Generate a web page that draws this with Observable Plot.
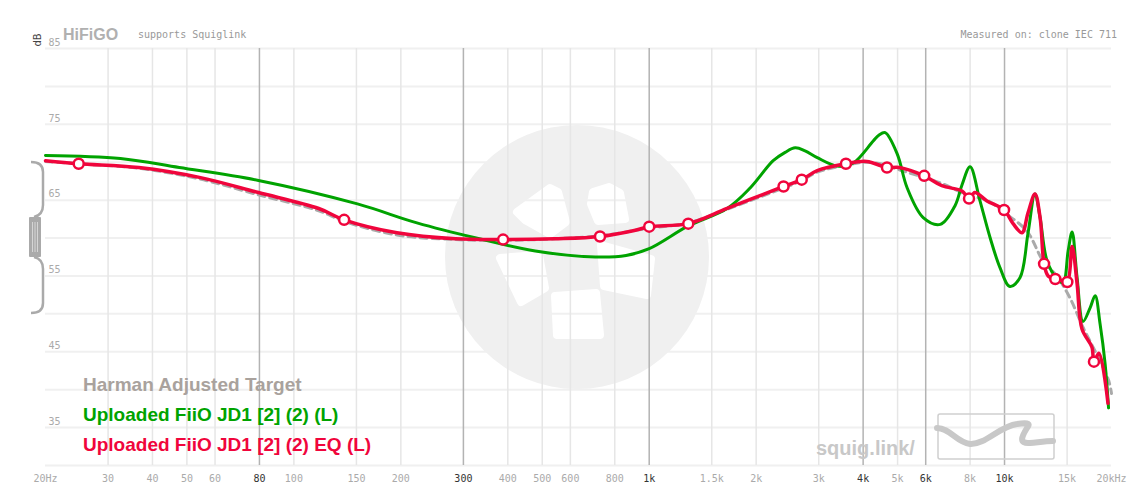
<!DOCTYPE html>
<html>
<head>
<meta charset="utf-8">
<script src="https://cdn.jsdelivr.net/npm/d3@7"></script>
<script src="https://cdn.jsdelivr.net/npm/@observablehq/plot@0.6"></script>
<style>
  html, body { margin: 0; padding: 0; background: #fff; }
  #chart svg { display: block; }
</style>
</head>
<body>
<div id="chart"></div>
<script>
// ---------- data ----------
const greenFreq = [20,32.5,47.6,79.5,151,222,326,478,705,861,1000,1288,1657,1923,2233,2413,2576,2746,2971,3381,3750,4270,4436,4613,4988,5322,5904,6594,7261,7590,7999,8530,9100,9709,10355,11060,11640,12180,12590,13170,14060,14618,15100,15495,16000,16635,17410,17990,18570,19190,19620];
const greenDb   = [70.9,70.5,69.3,67.6,64.5,62.0,60.0,58.3,57.5,57.7,58.6,61.6,63.9,66.6,70.2,71.3,71.9,71.5,70.6,69.5,69.9,72.8,73.6,73.9,71.1,66.6,62.7,61.8,64.3,67.0,69.4,64.9,60.1,56.1,53.6,54.8,60.6,65.8,62.7,57.0,54.6,54.1,58.3,60.8,54.8,49.0,50.8,52.4,48.7,43.4,37.6];

const redFreq = [20,24.8,36.6,54.2,79.5,117.5,138.5,195,285,388,543,727,908,1000,1288,1657,2388,2687,2971,3578,4095,4668,5056,5942,6661,7590,7944,8249,8925,9969,10570,11200,11640,12180,12590,12920,13263,13892,14510,15022,15495,16000,16520,17620,17850,18430,19550];
const redDb   = [70.2,69.8,69.3,68.0,66.0,63.9,62.4,60.7,59.9,59.8,59.9,60.2,61.0,61.5,61.9,63.9,66.8,67.7,68.9,69.8,70.1,69.3,69.3,68.2,66.9,66.2,65.2,66.0,64.9,63.7,61.9,60.7,63.3,65.8,62.7,56.6,55.0,54.6,54.4,54.2,58.9,54.0,48.0,45.6,43.7,44.8,38.2];

const targetFreq = [20,24.8,36.6,54.2,79.5,117.5,138.5,195,285,388,543,727,1000,1288,1657,2388,2687,2971,3578,4095,4668,5056,5942,6661,7944,8925,9969,11560,12830,14020,15280,16640,18380,19640,20000];
const targetDb   = [70.1,69.8,69.2,67.8,65.7,63.6,62.2,60.4,59.8,59.7,59.9,60.3,61.3,62.0,63.8,66.6,67.6,68.7,69.6,70.0,69.6,69.0,68.0,67.2,65.6,65.0,63.4,60.9,57.0,55.0,52.1,48.2,44.2,41.2,39.5];

const filterFreq = [24.8,138.5,388,727,1000,1288,2388,2687,3578,4668,5942,7944,9969,12920,13892,15022,17850];
const filterDb   = [69.8,62.4,59.8,60.2,61.5,61.9,66.8,67.7,69.8,69.3,68.2,65.2,63.7,56.6,54.6,54.2,43.7];

const tickFreqs  = [20,30,40,50,60,80,100,150,200,300,400,500,600,800,1000,1500,2000,3000,4000,5000,6000,8000,10000,15000,20000];
const tickLabels = ["20Hz","30","40","50","60","80","100","150","200","300","400","500","600","800","1k","1.5k","2k","3k","4k","5k","6k","8k","10k","15k","20kHz"];
const darkTicks  = [80,300,1000,4000,6000,10000];
const lightGrid  = [30,40,50,60,100,150,200,400,500,600,800,1500,2000,3000,5000,8000,15000];
const gridDb     = [30,35,40,45,50,55,60,65,70,75,80,85];
const yLabels    = [85,75,65,55,45,35];

const legendNames = ["Harman Adjusted Target","Uploaded FiiO JD1 [2] (2) (L)","Uploaded FiiO JD1 [2] (2) EQ (L)"];
const GREEN = "#00a300", RED = "#f0053c", TGRAY = "#a9a29d";

// ---------- tables ----------
const green  = greenFreq.map((f,i)=>({f, db: greenDb[i]}));
const red    = redFreq.map((f,i)=>({f, db: redDb[i]}));
const target = targetFreq.map((f,i)=>({f, db: targetDb[i]}));
const filters = filterFreq.map((f,i)=>({f, db: filterDb[i]}));
const ticks = tickFreqs.map((f,i)=>({f, label: tickLabels[i], dark: darkTicks.includes(f), last: i === tickFreqs.length-1}));

const mono = "'DejaVu Sans Mono', monospace";
const sans = "'Liberation Sans', Arial, sans-serif";

const chart = Plot.plot({
  width: 1127, height: 487,
  marginLeft: 45, marginRight: 16, marginTop: 48, marginBottom: 22,
  x: {type: "log", domain: [20, 20000], axis: null},
  y: {domain: [30, 85], axis: null},
  style: {background: "#fff", fontFamily: sans},
  marks: [
    Plot.ruleY(gridDb, {y: d=>d, stroke: "#f0f0f0", strokeWidth: 2}),
    Plot.ruleX(lightGrid, {x: d=>d, y1: 30, y2: 85, stroke: "#e6e6e6", strokeWidth: 1.5}),
    Plot.ruleX(darkTicks, {x: d=>d, y1: 30, y2: 85, stroke: "#b3b3b3", strokeWidth: 1.5}),
    Plot.text(yLabels, {y: d=>d, text: d=>String(d), frameAnchor: "left", textAnchor: "start", dx: 3, dy: -6, fill: "#aaa", fontSize: 10, fontFamily: mono}),
    Plot.text(ticks, {x: "f", text: "label", frameAnchor: "bottom", dy: 16,
      textAnchor: d => d.last ? "end" : "middle",
      fill: d => d.dark ? "#333" : "#aaa", fontSize: 10, fontFamily: mono}),
    Plot.line(target, {x: "f", y: "db", stroke: "#aaa", strokeWidth: 3, strokeDasharray: "7,5", curve: "catmull-rom"}),
    Plot.line(green, {x: "f", y: "db", stroke: GREEN, strokeWidth: 3, curve: "catmull-rom"}),
    Plot.line(red, {x: "f", y: "db", stroke: RED, strokeWidth: 3.5, curve: "catmull-rom"}),
    Plot.dot(filters, {x: "f", y: "db", r: 5, fill: "#fff", stroke: RED, strokeWidth: 2.5})
  ]
});
document.getElementById("chart").appendChild(chart);

// ---------- decorations ----------
const svg = d3.select(chart);
// watermark below everything
const wm = svg.insert("g", "g").attr("class", "watermark");
wm.append("circle").attr("cx", 577).attr("cy", 257).attr("r", 132).attr("fill", "#f0f0f0");
const blades = [
  [[517,212],[550,188],[558,192],[566,222],[550,234],[525,220]],
  [[593,192],[609,187],[620,193],[625,219],[598,221],[591,204]],
  [[601,245],[651,259],[647,295],[604,286]],
  [[555,296],[596,293],[600,335],[557,335]],
  [[500,258],[539,255],[545,288],[521,302]]
];
blades.forEach(p => wm.append("path").attr("d", "M" + p.map(q=>q.join(",")).join("L") + "Z")
  .attr("fill", "#fff").attr("stroke", "#fff").attr("stroke-width", 8).attr("stroke-linejoin", "round"));

// header
const hdr = svg.append("g").attr("text-anchor", "start");
hdr.append("text").attr("transform", "translate(41,40) rotate(-90)").attr("text-anchor", "middle")
  .attr("font-size", 10).attr("fill", "#444").attr("font-family", "'DejaVu Sans', sans-serif").text("dB");
hdr.append("text").attr("x", 63).attr("y", 40).attr("font-size", 16).attr("font-weight", "bold")
  .attr("fill", "#b0b0b0").attr("font-family", sans).text("HiFiGO");
hdr.append("text").attr("x", 138).attr("y", 38).attr("font-size", 10).attr("fill", "#999")
  .attr("font-family", mono).text("supports Squiglink");
hdr.append("text").attr("x", 1117).attr("y", 38).attr("text-anchor", "end").attr("font-size", 10).attr("fill", "#999")
  .attr("font-family", mono).text("Measured on: clone IEC 711");

// left scale handle
const hd = svg.append("g").attr("fill", "none").attr("stroke", "#aaa").attr("stroke-width", 2.5);
hd.append("path").attr("d", "M31,162 Q43,162 43,172 L43,205 Q43,215 34,217");
hd.append("path").attr("d", "M34,257 Q43,259 43,269 L43,303 Q43,313 31,313");
svg.append("rect").attr("x", 29).attr("y", 217).attr("width", 12).attr("height", 40).attr("fill", "#aaa").attr("rx", 1);
[32.5, 35, 37.5].forEach(x => svg.append("line").attr("x1", x).attr("x2", x).attr("y1", 222).attr("y2", 252)
  .attr("stroke", "#d5d5d5").attr("stroke-width", 1));

// legend
const lg = svg.append("g").attr("font-family", sans).attr("font-weight", "bold").attr("font-size", 19).attr("text-anchor", "start");
const legendColors = [TGRAY, GREEN, RED];
legendNames.forEach((n,i) => lg.append("text").attr("x", 83).attr("y", 391 + i*30).attr("fill", legendColors[i]).text(n));

// squig.link logo
svg.append("text").attr("x", 816).attr("y", 455).attr("text-anchor", "start").attr("font-family", sans)
  .attr("font-weight", "bold").attr("font-size", 20).attr("fill", "#c8c8c8").text("squig.link/");
svg.append("rect").attr("x", 938).attr("y", 414).attr("width", 116).attr("height", 45).attr("rx", 2)
  .attr("fill", "none").attr("stroke", "#cfcfcf").attr("stroke-width", 1.5);
svg.append("path").attr("d", "M937,428 C950,428 956,442 970,444 C985,445 1000,426 1017,424 C1030,422 1030,424 1027,428 C1022,436 1018,444 1030,443 C1040,442 1046,441 1053,441")
  .attr("fill", "none").attr("stroke", "#c8c8c8").attr("stroke-width", 6).attr("stroke-linecap", "round");
</script>
</body>
</html>
